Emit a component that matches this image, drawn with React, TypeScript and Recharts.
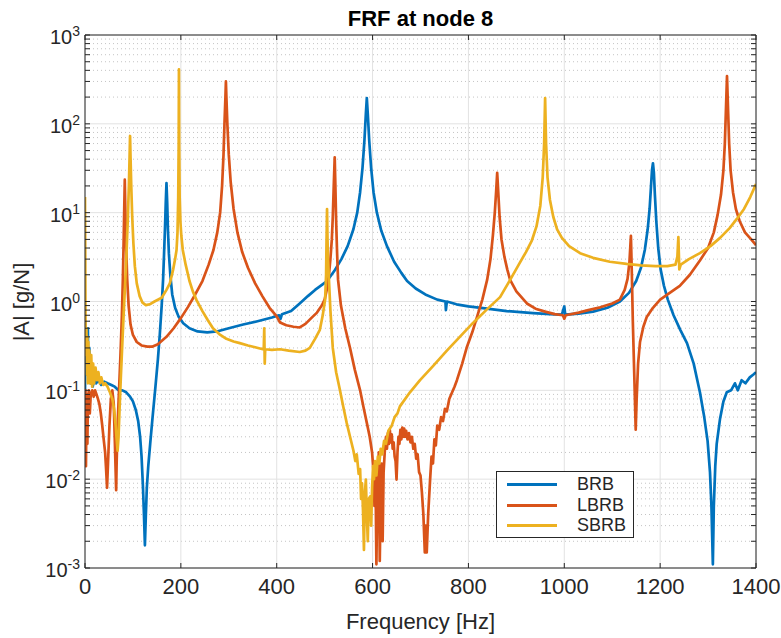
import React from 'react';
import { LineChart, Line, XAxis, YAxis, CartesianGrid, ReferenceLine } from 'recharts';

type Pt = [number, number];

// [frequency Hz, |A| g/N]
const BRB: Pt[] = [
  [0, 0.09], [1, 0.6], [2, 0.2], [3, 0.45], [4, 0.15], [5, 0.35], [6, 0.5], [7, 0.14], [9, 0.3], [11, 0.12],
  [13, 0.2], [16, 0.11], [19, 0.13], [23, 0.12], [28, 0.13], [34, 0.115], [40, 0.125], [47, 0.12], [55, 0.115],
  [62, 0.11], [70, 0.1], [78, 0.1], [86, 0.095], [94, 0.085], [100, 0.075], [106, 0.06], [111, 0.045], [115, 0.03],
  [118, 0.018], [121, 0.008], [123, 0.004], [125, 0.0018], [127, 0.004], [129, 0.008], [132, 0.014], [136, 0.025],
  [141, 0.05], [147, 0.11], [152, 0.22], [156, 0.42], [160, 0.9], [163, 1.8], [165, 3.5], [167, 7], [168.5, 13],
  [170, 21.5], [171.5, 13], [173, 6.5], [175, 3.5], [178, 2], [182, 1.2], [188, 0.85], [195, 0.68], [205, 0.57],
  [218, 0.5], [235, 0.46], [255, 0.45], [275, 0.46], [300, 0.5], [330, 0.55], [360, 0.6], [390, 0.66], [405, 0.7],
  [408, 0.64], [411, 0.72], [430, 0.78], [448, 0.95], [465, 1.15], [480, 1.35], [495, 1.55], [505, 1.7], [520, 2.2],
  [535, 3.0], [548, 4.2], [560, 6.5], [568, 10], [574, 17], [579, 32], [583, 65], [586, 130], [588, 195], [590, 130],
  [593, 65], [597, 32], [602, 17], [609, 10], [618, 6.3], [630, 4.2], [645, 2.8], [660, 2.1], [672, 1.7], [690, 1.4],
  [710, 1.2], [735, 1.05], [752, 1.0], [753, 0.8], [755, 1.0], [775, 0.93], [800, 0.88], [839, 0.83], [880, 0.78],
  [935, 0.74], [970, 0.72], [995, 0.71], [1000, 0.88], [1002, 0.71], [1030, 0.73], [1060, 0.77], [1090, 0.85],
  [1116, 1.0], [1135, 1.25], [1150, 1.7], [1160, 2.4], [1168, 3.8], [1174, 6.5], [1178, 11], [1181, 20], [1183, 30],
  [1185, 36], [1187, 28], [1189, 16], [1192, 8], [1196, 4], [1201, 2.3], [1208, 1.5], [1216, 1.05], [1228, 0.7],
  [1242, 0.48], [1256, 0.34], [1270, 0.2], [1283, 0.095], [1292, 0.05], [1299, 0.027], [1304, 0.012], [1307, 0.005],
  [1310, 0.0011], [1312, 0.005], [1315, 0.014], [1318, 0.025], [1325, 0.048], [1332, 0.075], [1339, 0.095],
  [1348, 0.1], [1356, 0.12], [1362, 0.1], [1370, 0.13], [1378, 0.12], [1387, 0.14], [1394, 0.15], [1400, 0.16],
];

const LBRB: Pt[] = [
  [0, 0.04], [1, 0.1], [2, 0.014], [3, 0.06], [4, 0.09], [5, 0.025], [6, 0.08], [8, 0.1], [10, 0.055], [12, 0.09],
  [15, 0.1], [18, 0.085], [21, 0.1], [24, 0.09], [27, 0.08], [30, 0.07], [33, 0.055], [36, 0.04], [39, 0.028],
  [42, 0.02], [44, 0.013], [46, 0.008], [48, 0.015], [51, 0.04], [54, 0.08], [57, 0.1], [60, 0.07], [62, 0.03],
  [64, 0.012], [65, 0.0075], [66, 0.015], [68, 0.04], [71, 0.1], [74, 0.25], [77, 0.7], [79, 1.8], [81, 6], [82, 12],
  [83, 23.5], [84, 12], [86, 4], [88, 1.8], [91, 0.9], [95, 0.55], [100, 0.42], [108, 0.35], [118, 0.32], [130, 0.31],
  [140, 0.31], [152, 0.33], [170, 0.4], [185, 0.5], [200, 0.65], [215, 0.87], [230, 1.2], [245, 1.7], [258, 2.6],
  [268, 3.8], [276, 6], [282, 10], [286, 20], [289, 45], [291, 100], [293, 200], [294, 300], [295, 200], [297, 100],
  [300, 45], [304, 22], [310, 11], [318, 6], [328, 3.6], [340, 2.4], [355, 1.6], [370, 1.15], [385, 0.85], [400, 0.68],
  [407, 0.58], [420, 0.54], [435, 0.52], [448, 0.51], [460, 0.56], [472, 0.65], [484, 0.75], [494, 0.9], [500, 1.05],
  [505, 1.4], [509, 2], [512, 3], [515, 5], [517, 9], [519, 20], [521, 42], [522, 25], [524, 8], [526, 3.5],
  [528, 1.75], [534, 0.9], [543, 0.5], [553, 0.3], [563, 0.17], [574, 0.1], [581, 0.065], [588, 0.043], [594, 0.03],
  [599, 0.02], [602, 0.012], [604, 0.005], [606, 0.013], [608, 0.0011], [610, 0.008], [613, 0.02], [615, 0.0012],
  [617, 0.006], [619, 0.015], [621, 0.002], [623, 0.012], [626, 0.023], [628, 0.03], [630, 0.022], [632, 0.033],
  [634, 0.025], [636, 0.036], [638, 0.026], [640, 0.032], [642, 0.022], [644, 0.026], [646, 0.018], [648, 0.016],
  [650, 0.0099], [652, 0.02], [654, 0.03], [656, 0.025], [658, 0.036], [660, 0.028], [662, 0.038], [664, 0.03],
  [666, 0.037], [668, 0.03], [670, 0.035], [673, 0.028], [676, 0.033], [679, 0.026], [682, 0.03], [685, 0.022],
  [688, 0.025], [691, 0.017], [694, 0.019], [697, 0.012], [700, 0.011], [703, 0.007], [706, 0.004], [709, 0.0015],
  [711, 0.003], [713, 0.0015], [716, 0.004], [720, 0.0098], [723, 0.018], [726, 0.015], [729, 0.028], [732, 0.024],
  [735, 0.04], [739, 0.036], [743, 0.05], [747, 0.045], [751, 0.062], [755, 0.058], [760, 0.08], [766, 0.095],
  [771, 0.11], [776, 0.13], [787, 0.2], [797, 0.31], [808, 0.45], [818, 0.67], [829, 1.05], [839, 1.75], [846, 3],
  [851, 5.5], [855, 10], [858, 18], [860, 28], [862, 18], [865, 9], [869, 5], [875, 3.2], [881, 2.3], [887, 1.75],
  [900, 1.3], [922, 0.95], [940, 0.83], [960, 0.77], [980, 0.72], [997, 0.7], [1000, 0.64], [1003, 0.7], [1030, 0.75],
  [1050, 0.8], [1075, 0.86], [1100, 0.95], [1116, 1.05], [1126, 1.35], [1132, 1.8], [1136, 2.8], [1139, 5.5],
  [1141, 2], [1143, 0.6], [1146, 0.15], [1149, 0.036], [1151, 0.08], [1154, 0.2], [1158, 0.35], [1165, 0.52],
  [1172, 0.67], [1185, 0.85], [1200, 1.05], [1220, 1.25], [1241, 1.5], [1262, 2.0], [1283, 2.9], [1300, 4.0],
  [1312, 6], [1320, 9.5], [1327, 16], [1332, 30], [1335, 60], [1337, 130], [1339.5, 345], [1342, 130], [1344, 60],
  [1347, 30], [1352, 17], [1358, 11], [1366, 8], [1377, 6], [1390, 5], [1400, 4.3],
];

const SBRB: Pt[] = [
  [0, 15], [0.5, 4], [1, 0.7], [2, 0.25], [3, 0.5], [4, 0.15], [5, 0.4], [6, 0.12], [7, 0.35], [8, 0.13], [9, 0.28],
  [11, 0.12], [13, 0.25], [15, 0.11], [17, 0.2], [19, 0.12], [22, 0.18], [25, 0.13], [28, 0.16], [31, 0.12],
  [34, 0.14], [38, 0.115], [42, 0.12], [47, 0.11], [52, 0.095], [57, 0.08], [61, 0.06], [64, 0.04], [66, 0.028],
  [68, 0.021], [70, 0.03], [72, 0.06], [75, 0.15], [78, 0.35], [81, 0.8], [84, 1.7], [87, 4], [89.5, 9], [91.5, 20],
  [93, 42], [94, 73], [95, 42], [96.5, 20], [98.5, 9], [101, 4.5], [104, 2.5], [108, 1.6], [114, 1.15], [120, 0.97],
  [127, 0.91], [135, 0.93], [145, 1.0], [160, 1.1], [170, 1.35], [177, 1.6], [184, 2.3], [188, 3.0], [191, 3.8],
  [193, 6], [194.5, 15], [195.5, 60], [196, 410], [196.5, 60], [197.5, 15], [199, 8], [201, 5.5], [204, 3.8],
  [210, 2.6], [218, 1.7], [225, 1.3], [233, 1.03], [245, 0.78], [256, 0.62], [267, 0.5], [280, 0.43], [295, 0.38],
  [310, 0.355], [323, 0.34], [340, 0.32], [355, 0.305], [371, 0.29], [373, 0.3], [374, 0.5], [375, 0.2], [376, 0.29],
  [390, 0.285], [407, 0.29], [425, 0.28], [448, 0.27], [460, 0.28], [469, 0.3], [480, 0.38], [490, 0.48], [496, 0.7],
  [501, 1.05], [503, 2], [504, 5], [505, 11], [506, 5], [507, 3], [509, 1.75], [512, 0.8], [517, 0.3], [524, 0.16],
  [532, 0.1], [539, 0.065], [546, 0.043], [553, 0.03], [560, 0.021], [564, 0.016], [567, 0.019], [571, 0.0115],
  [574, 0.013], [576, 0.006], [578, 0.009], [580, 0.0045], [582, 0.0016], [584, 0.007], [586, 0.0099], [588, 0.004],
  [590, 0.002], [592, 0.006], [595, 0.0064], [597, 0.003], [599, 0.008], [601, 0.014], [603, 0.01], [605, 0.016],
  [608, 0.011], [611, 0.018], [614, 0.015], [617, 0.022], [620, 0.019], [624, 0.027], [628, 0.025], [633, 0.035],
  [640, 0.04], [646, 0.05], [652, 0.055], [657, 0.066], [678, 0.095], [699, 0.13], [727, 0.19], [755, 0.28],
  [782, 0.4], [809, 0.57], [837, 0.8], [866, 1.12], [887, 1.75], [905, 2.6], [920, 3.6], [932, 4.8], [942, 7],
  [950, 12], [955, 25], [958, 60], [960, 195], [962, 60], [965, 25], [970, 14], [977, 9], [985, 6.5], [995, 5.2],
  [1010, 4.2], [1033, 3.5], [1060, 3.1], [1095, 2.8], [1130, 2.65], [1160, 2.55], [1190, 2.5], [1215, 2.5],
  [1232, 2.6], [1236, 3.2], [1238, 5.3], [1240, 2.3], [1243, 2.6], [1260, 3.0], [1283, 3.5], [1305, 4.2],
  [1325, 5.2], [1345, 6.7], [1360, 8.5], [1375, 11], [1388, 15], [1400, 21],
];

const SERIES_NAMES = ['BRB', 'LBRB', 'SBRB'];
const SERIES_COLORS = ['#0072BD', '#D95319', '#EDB120'];
const SERIES_DATA = [BRB, LBRB, SBRB];

const X_TICKS = [0, 200, 400, 600, 800, 1000, 1200, 1400];
const Y_EXPONENTS = [-3, -2, -1, 0, 1, 2, 3];
const Y_MAJOR = Y_EXPONENTS.map((e) => Math.pow(10, e));
const Y_MINOR: number[] = [];
Y_EXPONENTS.slice(0, -1).forEach((e) => {
  for (let m = 2; m <= 9; m++) Y_MINOR.push(+(m * Math.pow(10, e)).toPrecision(6));
});
const Y_ALL = [...Y_MAJOR, ...Y_MINOR].sort((a, b) => a - b);

const TITLE = 'FRF at node 8';
const X_LABEL = 'Frequency [Hz]';
const Y_LABEL = '|A| [g/N]';

// layout
const PAGE_W = 781;
const PAGE_H = 638;
const OFFSET = 8;
const W = 773;
const H = 630;
const M = { top: 27, right: 25, bottom: 0, left: 17 };
const Y_AXIS_W = 60;
const X_AXIS_H = 70;
const LEFT = M.left + Y_AXIS_W;
const RIGHT = W - M.right;
const TOP = M.top;
const BOTTOM = H - M.bottom - X_AXIS_H;
const AXIS = '#262626';
const FONT = '"Liberation Sans", Arial, Helvetica, sans-serif';
const TICK_LEN = 5;

const isMajor = (v: number) => {
  const l = Math.log10(v);
  return Math.abs(l - Math.round(l)) < 1e-6;
};

const YTick = (p: any) => {
  const v = p.payload.value;
  const y = p.y;
  const e = Math.round(Math.log10(v));
  return (
    <g>
      <line x1={LEFT} x2={LEFT + TICK_LEN} y1={y} y2={y} stroke={AXIS} strokeWidth={1} />
      <line x1={RIGHT} x2={RIGHT - TICK_LEN} y1={y} y2={y} stroke={AXIS} strokeWidth={1} />
      {isMajor(v) && (
        <text x={LEFT - 5} y={y + 9} textAnchor="end" fontSize={20} fill={AXIS} fontFamily={FONT}>
          10<tspan dy={-8} fontSize={14}>{e}</tspan>
        </text>
      )}
    </g>
  );
};

const XTick = (p: any) => {
  const x = p.x;
  return (
    <g>
      <line x1={x} x2={x} y1={BOTTOM} y2={BOTTOM - TICK_LEN} stroke={AXIS} strokeWidth={1} />
      <line x1={x} x2={x} y1={TOP} y2={TOP + TICK_LEN} stroke={AXIS} strokeWidth={1} />
      <text x={x} y={BOTTOM + 26} textAnchor="middle" fontSize={22} fill={AXIS} fontFamily={FONT}>
        {p.payload.value}
      </text>
    </g>
  );
};

export default function App() {
  const datasets = SERIES_DATA.map((s) => s.map(([hz, amp]) => ({ hz, amp })));
  return (
    <div style={{ position: 'relative', width: PAGE_W, height: PAGE_H, background: '#fff' }}>
      <style>{'body{margin:0;}'}</style>
      <div
        style={{
          position: 'absolute', left: OFFSET, top: OFFSET, width: W, height: H, fontFamily: FONT, color: AXIS,
        }}
      >
        <LineChart width={W} height={H} margin={M} style={{ overflow: 'visible' }}>
          <CartesianGrid
            horizontalValues={Y_MINOR}
            vertical={false}
            stroke="#c4c4c4"
            strokeDasharray="1 3"
          />
          <CartesianGrid horizontalValues={Y_MAJOR} verticalValues={X_TICKS} stroke="#e2e2e2" />
          <XAxis
            type="number"
            dataKey="hz"
            domain={[0, 1400]}
            allowDataOverflow
            ticks={X_TICKS}
            interval={0}
            height={X_AXIS_H}
            tickLine={false}
            axisLine={{ stroke: AXIS, strokeWidth: 1 }}
            tick={(p: any) => <XTick {...p} />}
          />
          <YAxis
            type="number"
            scale="log"
            domain={[0.001, 1000]}
            allowDataOverflow
            ticks={Y_ALL}
            interval={0}
            width={Y_AXIS_W}
            tickLine={false}
            axisLine={{ stroke: AXIS, strokeWidth: 1 }}
            tick={(p: any) => <YTick {...p} />}
          />
          {SERIES_NAMES.map((name, i) => (
            <Line
              key={name}
              name={name}
              data={datasets[i]}
              dataKey="amp"
              type="linear"
              stroke={SERIES_COLORS[i]}
              strokeWidth={2.7}
              strokeLinejoin="round"
              dot={false}
              activeDot={false}
              isAnimationActive={false}
            />
          ))}
          <ReferenceLine y={1000} stroke={AXIS} strokeWidth={1} />
          <ReferenceLine x={1400} stroke={AXIS} strokeWidth={1} />
        </LineChart>

        <div
          style={{
            position: 'absolute', left: (LEFT + RIGHT) / 2, top: 0, transform: 'translateX(-50%)',
            fontSize: 22, fontWeight: 'bold', lineHeight: '22px', whiteSpace: 'nowrap', color: '#000',
          }}
        >
          {TITLE}
        </div>
        <div
          style={{
            position: 'absolute', left: (LEFT + RIGHT) / 2, top: 603, transform: 'translateX(-50%)',
            fontSize: 22, lineHeight: '22px', whiteSpace: 'nowrap',
          }}
        >
          {X_LABEL}
        </div>
        <div
          style={{
            position: 'absolute', left: 14, top: (TOP + BOTTOM) / 2,
            transform: 'translate(-50%, -50%) rotate(-90deg)',
            fontSize: 22, lineHeight: '22px', whiteSpace: 'nowrap',
          }}
        >
          {Y_LABEL}
        </div>

        <div
          style={{
            position: 'absolute', left: 488, top: 463, width: 138, height: 67, boxSizing: 'border-box',
            border: `1px solid ${AXIS}`, background: '#fff',
          }}
        >
          {SERIES_NAMES.map((name, i) => (
            <div
              key={name}
              style={{ position: 'absolute', left: 0, top: 2 + i * 20.5, height: 20, width: '100%' }}
            >
              <div
                style={{
                  position: 'absolute', left: 10, top: 9, width: 50, height: 3, background: SERIES_COLORS[i],
                }}
              />
              <div style={{ position: 'absolute', left: 80, top: 0, fontSize: 18, lineHeight: '20px' }}>{name}</div>
            </div>
          ))}
        </div>
      </div>
    </div>
  );
}
